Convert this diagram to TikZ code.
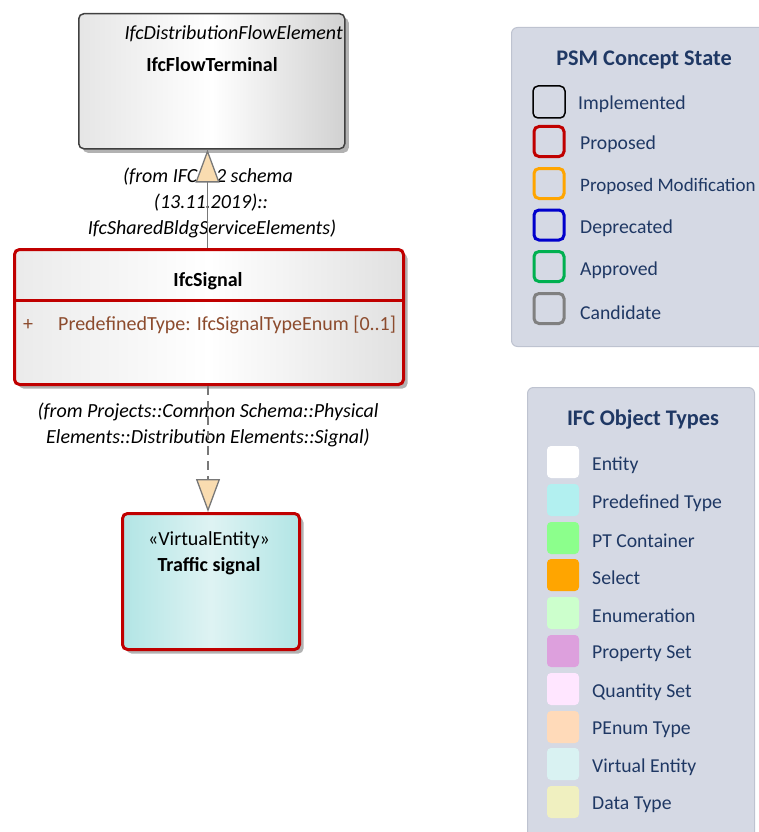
\documentclass[tikz,border=0pt]{standalone}
\usepackage{fontspec}
\setmainfont{Carlito}
\usetikzlibrary{arrows.meta,shadows,calc}
\definecolor{propred}{RGB}{192,0,0}
\definecolor{attrbrown}{RGB}{140,75,45}
\definecolor{legbg}{RGB}{213,217,228}
\definecolor{legborder}{RGB}{190,195,208}
\definecolor{legtext}{RGB}{31,56,100}
\definecolor{tipfill}{RGB}{249,220,176}
\definecolor{connc}{RGB}{120,120,120}
\definecolor{ve1}{RGB}{178,229,229}
\definecolor{ve2}{RGB}{222,243,243}
\definecolor{stOrange}{RGB}{255,165,0}
\definecolor{stBlue}{RGB}{0,0,204}
\definecolor{stGreen}{RGB}{0,176,80}
\definecolor{stGray}{RGB}{128,128,128}
\definecolor{swPre}{RGB}{178,240,240}
\definecolor{swPT}{RGB}{140,255,140}
\definecolor{swSel}{RGB}{255,165,0}
\definecolor{swEnum}{RGB}{204,255,204}
\definecolor{swPset}{RGB}{221,160,221}
\definecolor{swQset}{RGB}{255,230,255}
\definecolor{swPEnum}{RGB}{255,218,185}
\definecolor{swVE}{RGB}{217,242,242}
\definecolor{swDT}{RGB}{240,240,192}
\tikzset{
  dtext/.style={font=\fontsize{20}{24}\selectfont, inner sep=0pt},
  dital/.style={dtext, font=\fontsize{20}{24}\selectfont\itshape},
  dbold/.style={dtext, font=\fontsize{20}{24}\selectfont\bfseries},
  umlbox/.style={rounded corners=5pt, inner sep=0pt,
     drop shadow={shadow xshift=4pt, shadow yshift=-4pt, fill=black!30, opacity=1}},
  grayclass/.style={umlbox, draw=black!75, line width=1.5pt,
     left color=black!10, right color=black!18, middle color=white},
  redclass/.style={umlbox, draw=propred, line width=3pt,
     left color=black!8, right color=black!12, middle color=white},
  veclass/.style={umlbox, draw=propred, line width=3pt,
     left color=ve1, right color=ve1, middle color=ve2},
  legendbox/.style={rounded corners=6pt, fill=legbg, draw=legborder, line width=1pt, inner sep=0pt},
  legtitle/.style={font=\fontsize{22.3}{26}\selectfont\bfseries, text=legtext, inner sep=0pt},
  legitem/.style={font=\fontsize{19.7}{24}\selectfont, text=legtext, inner sep=0pt, anchor=west},
  stbox/.style={rounded corners=5pt, line width=3pt, minimum width=30pt, minimum height=30pt, inner sep=0pt},
  swatch/.style={rounded corners=4pt, minimum width=32pt, minimum height=32pt, inner sep=0pt},
  conn/.style={draw=connc, line width=1.3pt, -{Triangle[length=33pt,width=24pt,fill=tipfill]}},
}
\begin{document}
\begin{tikzpicture}[x=1pt,y=-1pt]
\useasboundingbox (0,0) rectangle (759,832);
% ---------- legends ----------
\node[legendbox, minimum width=262pt, minimum height=319pt, anchor=north west] (psm) at (511,27) {};
\node[legtitle] (psmt) at (644,59.5) {PSM Concept State};
\node[stbox, draw=black, line width=1.5pt, minimum width=32pt, minimum height=32pt] (s1) at (549,102) {};
\node[stbox, draw=propred] (s2) at (549,141.5) {};
\node[stbox, draw=stOrange] (s3) at (549,183.5) {};
\node[stbox, draw=stBlue] (s4) at (549,225) {};
\node[stbox, draw=stGreen] (s5) at (549,266.5) {};
\node[stbox, draw=stGray] (s6) at (549,308.5) {};
\node[legitem] (l1) at (578,104.5) {Implemented};
\node[legitem] (l2) at (580,144.5) {Proposed};
\node[legitem, font=\fontsize{19}{24}\selectfont] (l3) at (580,186.5) {Proposed Modification};
\node[legitem] (l4) at (580,228.5) {Deprecated};
\node[legitem] (l5) at (580,270.5) {Approved};
\node[legitem] (l6) at (580,312.5) {Candidate};

\node[legendbox, minimum width=227pt, minimum height=460pt, anchor=north west] (ifc) at (527,387) {};
\node[legtitle] (ifct) at (643,419.5) {IFC Object Types};
\foreach \c/\t/\y [count=\i] in {white/Entity/462, swPre/Predefined Type/500, swPT/PT Container/538,
   swSel/Select/575, swEnum/Enumeration/613, swPset/Property Set/651, swQset/Quantity Set/689,
   swPEnum/PEnum Type/727, swVE/Virtual Entity/764, swDT/Data Type/802}{
  \node[swatch, fill=\c] (w\i) at (563,\y) {};
  \node[legitem] (t\i) at (592,\y+3) {\t};
}
% ---------- classes ----------
\node[grayclass, minimum width=266pt, minimum height=135pt, anchor=north west] (ft) at (78,13) {};
\node[dital, anchor=east] (ftst) at (343,34) {IfcDistributionFlowElement};
\node[dbold] (ftn) at (212,65) {IfcFlowTerminal};

\node[redclass, minimum width=389pt, minimum height=135pt, anchor=north west] (sig) at (13,248) {};
\draw[propred, line width=3pt] (sig.west |- 0,300) coordinate (dl) -- (sig.east |- 0,300) coordinate (dr);
\node[dbold] (sign) at (208,281) {IfcSignal};
\node[dtext, text=attrbrown] (plus) at (28,325) {+};
\node[dtext, text=attrbrown, anchor=west] (attr) at (58,325) {PredefinedType: IfcSignalTypeEnum [0..1]};

\node[veclass, minimum width=177pt, minimum height=136pt, anchor=north west] (tr) at (121,512) {};
\node[dtext] (trst) at (209,540) {«VirtualEntity»};
\node[dbold] (trn) at (209,566) {Traffic signal};

% ---------- labels ----------
\node[dital] (lab1a) at (208,177) {(from IFC4x2 schema};
\node[dital] (lab1b) at (211,203) {(13.11.2019)::};
\node[dital] (lab1c) at (212,229) {IfcSharedBldgServiceElements)};
\node[dital] (lab2a) at (208,412) {(from Projects::Common Schema::Physical};
\node[dital] (lab2b) at (208,438) {Elements::Distribution Elements::Signal)};

% ---------- connectors ----------
\draw[conn] (sig.north -| 207.5,0) -- (ft.south -| 207.5,0);
\draw[conn, dash pattern=on 9pt off 6pt] (sig.south -| 208,0) -- (tr.north -| 208,0);
\end{tikzpicture}
\end{document}
